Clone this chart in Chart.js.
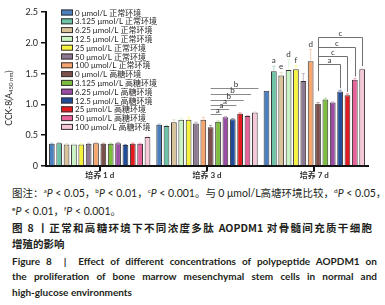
<!DOCTYPE html>
<html><head><meta charset="utf-8">
<script src="https://cdn.jsdelivr.net/npm/chart.js@4"></script>
<style>
body{margin:0;width:385px;height:305px;background:#fff;position:relative;overflow:hidden;font-family:"Noto Sans CJK SC",sans-serif;color:#231f20}
#wrap{position:absolute;left:0;top:0;width:385px;height:185px}
.ln{position:absolute;left:12px;width:366px;white-space:nowrap;line-height:16px;height:16px}
.j{text-align:justify;text-align-last:justify}
.zh{font-size:10.5px}
.zb{font-size:10.5px;font-weight:700}
.en{font-family:Lato,"Noto Sans",sans-serif;font-weight:700;font-size:10px}
.num{font-family:Lato,"Noto Sans",sans-serif}
sup{font-size:6.5px;vertical-align:4px;line-height:0;font-family:Lato,"Noto Sans",sans-serif}
</style></head>
<body>
<div id="wrap"><canvas id="c" width="385" height="185"></canvas></div>
<div class="ln j zh" style="top:185px;width:368px">图注：<sup>a</sup><i class="num">P</i><span class="num"> &lt; 0.05</span>，<sup>b</sup><i class="num">P</i><span class="num"> &lt; 0.01</span>，<sup>c</sup><i class="num">P</i><span class="num"> &lt; 0.001</span>。与 <span class="num">0 μmol/L</span>高塘环境比较，<sup>d</sup><i class="num">P</i><span class="num"> &lt; 0.05</span>，</div>
<div class="ln zh" style="top:203px"><sup>e</sup><i class="num">P</i><span class="num"> &lt; 0.01</span>，<sup>f</sup><i class="num">P</i><span class="num"> &lt; 0.001</span>。</div>
<div class="ln j zb" style="top:220px;width:360px">图 8 丨正常和高糖环境下不同浓度多肽 AOPDM1 对骨髓间充质干细胞</div>
<div class="ln zb" style="top:236px">增殖的影响</div>
<div class="ln j en" style="top:253px;width:365px">Figure 8 &nbsp;| &nbsp;Effect of different concentrations of polypeptide AOPDM1 on</div>
<div class="ln j en" style="top:268px;width:365px">the proliferation of bone marrow mesenchymal stem cells in normal and</div>
<div class="ln en" style="top:284px">high-glucose environments</div>
<script>
const categories = ['培养 1 d', '培养 3 d', '培养 7 d'];
const seriesLabels = [
  '0 μmol/L 正常环境', '3.125 μmol/L 正常环境', '6.25 μmol/L 正常环境', '12.5 μmol/L 正常环境',
  '25 μmol/L 正常环境', '50 μmol/L 正常环境', '100 μmol/L 正常环境',
  '0 μmol/L 高糖环境', '3.125 μmol/L 高糖环境', '6.25 μmol/L 高糖环境', '12.5 μmol/L 高糖环境',
  '25 μmol/L 高糖环境', '50 μmol/L 高糖环境', '100 μmol/L 高糖环境'
];
const day1 = [0.36, 0.37, 0.35, 0.35, 0.35, 0.36, 0.37, 0.36, 0.36, 0.37, 0.34, 0.36, 0.36, 0.47];
const day3 = [0.67, 0.65, 0.71, 0.75, 0.75, 0.69, 0.75, 0.63, 0.72, 0.79, 0.76, 0.85, 0.81, 0.87];
const day7 = [1.22, 1.54, 1.47, 1.56, 1.57, 1.38, 1.70, 1.01, 1.08, 1.03, 1.21, 1.15, 1.40, 1.57];
const err1 = [0.01, 0.01, 0.01, 0.01, 0.01, 0.01, 0.015, 0.01, 0.01, 0.015, 0.01, 0.01, 0.01, 0.015];
const err3 = [0.01, 0.01, 0.04, 0.03, 0.04, 0.02, 0.04, 0.03, 0.01, 0.01, 0.01, 0.01, 0.01, 0.01];
const err7 = [0.0, 0.08, 0.05, 0.17, 0.06, 0.12, 0.19, 0.02, 0.02, 0.01, 0.02, 0.02, 0.02, 0.02];
const yTickValues = [0, 0.5, 1, 1.5, 2, 2.5];
const yTickLabels = ['0', '0.5', '1.0', '1.5', '2.0', '2.5'];
// significance letters directly above bars (category index, series index)
const barLetters = [
  {cat: 2, series: 1, letter: 'a'}, {cat: 2, series: 2, letter: 'e'}, {cat: 2, series: 3, letter: 'd'},
  {cat: 2, series: 4, letter: 'f'}, {cat: 2, series: 6, letter: 'd'}
];
// day 3 comparison lines (from series -> to series at a value level)
const day3Marks = [
  {from: 7, to: 13, level: 1.266, letter: 'b'}, {from: 7, to: 12, level: 1.164, letter: 'b'},
  {from: 7, to: 11, level: 1.071, letter: 'b'}, {from: 7, to: 10, level: 0.985, letter: 'a'},
  {from: 7, to: 9, level: 0.92, letter: 'a'}, {from: 7, to: 8, level: 0.844, letter: 'a'}
];
// day 7 brackets
const day7Brackets = [
  {from: 7, to: 13, level: 2.10, base: 1.22, letter: 'c'}, {from: 7, to: 12, level: 1.93, base: 1.22, letter: 'c'},
  {from: 7, to: 11, level: 1.79, base: 1.22, letter: 'c'}, {from: 7, to: 10, level: 1.65, base: 1.22, letter: 'a'}
];

const colors = ['#4a7fc0', '#6cc3a6', '#d8c39a', '#c9f4c4', '#f6f33e', '#8c7892', '#f5a66e',
  '#7a4e4b', '#7cbd3e', '#9a4ea3', '#1f4d9b', '#e51a1f', '#e8619b', '#f6c8d9'];
const allErr = [err1, err3, err7];

function lighten(hex, t) {
  const n = parseInt(hex.slice(1), 16);
  const r = (n >> 16) & 255, g = (n >> 8) & 255, b = n & 255;
  const m = v => Math.round(v + (255 - v) * t);
  return `rgb(${m(r)},${m(g)},${m(b)})`;
}

const FONT = 'Lato, "Noto Sans", "Noto Sans CJK SC", sans-serif';

const datasets = seriesLabels.map((lab, i) => ({
  label: lab,
  data: [day1[i], day3[i], day7[i]],
  errors: allErr.map(e => e[i]),
  backgroundColor: colors[i],
  borderColor: '#3a3535',
  borderWidth: 1,
  borderSkipped: 'start'
}));

const extras = {
  id: 'extras',
  afterDatasetsDraw(chart) {
    const ctx = chart.ctx;
    const ys = chart.scales.y;
    ctx.save();
    // error bars
    chart.data.datasets.forEach((ds, i) => {
      const meta = chart.getDatasetMeta(i);
      meta.data.forEach((el, c) => {
        const e = ds.errors[c];
        if (!e) return;
        const yt = ys.getPixelForValue(ds.data[c] + e);
        ctx.strokeStyle = lighten(colors[i], 0.45);
        ctx.lineWidth = 1;
        ctx.beginPath();
        ctx.moveTo(el.x, el.y);
        ctx.lineTo(el.x, yt);
        ctx.moveTo(el.x - 1.6, yt);
        ctx.lineTo(el.x + 1.6, yt);
        ctx.stroke();
      });
    });
    ctx.font = '8px ' + FONT;
    ctx.fillStyle = '#333';
    ctx.textAlign = 'center';
    ctx.textBaseline = 'middle';
    // letters above bars
    barLetters.forEach(m => {
      const el = chart.getDatasetMeta(m.series).data[m.cat];
      const yt = ys.getPixelForValue(day7[m.series] + err7[m.series]);
      ctx.fillText(m.letter, el.x, yt - 5.5);
    });
    // day 3 lines
    ctx.strokeStyle = '#8a8a8a';
    ctx.lineWidth = 1;
    day3Marks.forEach(m => {
      const a = chart.getDatasetMeta(m.from).data[1];
      const b = chart.getDatasetMeta(m.to).data[1];
      const x0 = a.x, x1 = b.x + b.width / 2 + 0.8;
      const y = Math.round(ys.getPixelForValue(m.level)) + 0.5;
      ctx.beginPath(); ctx.moveTo(x0, y); ctx.lineTo(x1, y); ctx.stroke();
      ctx.fillText(m.letter, (x0 + x1) / 2 + 1.5, y - 4);
    });
    // day 7 brackets
    ctx.strokeStyle = '#707070';
    day7Brackets.forEach(m => {
      const a = chart.getDatasetMeta(m.from).data[2];
      const b = chart.getDatasetMeta(m.to).data[2];
      const xl = Math.round(a.x) + 0.5, xr = Math.round(b.x) + 0.5;
      const y = Math.round(ys.getPixelForValue(m.level)) + 0.5;
      const yl = ys.getPixelForValue(m.base);
      const yr = ys.getPixelForValue(day7[m.to] + err7[m.to]) - 2;
      ctx.beginPath();
      ctx.moveTo(xl, yl); ctx.lineTo(xl, y); ctx.lineTo(xr, y); ctx.lineTo(xr, yr);
      ctx.stroke();
      ctx.fillText(m.letter, (xl + xr) / 2, y - 4.5);
    });
    // legend
    ctx.textAlign = 'left';
    ctx.font = '8px ' + FONT;
    chart.data.datasets.forEach((ds, i) => {
      const cy = 12.5 + i * 8.8;
      ctx.fillStyle = ds.backgroundColor;
      ctx.fillRect(61, cy - 3, 12, 6);
      ctx.strokeStyle = '#3a3535';
      ctx.strokeRect(61.5, cy - 3 + 0.5, 11, 5);
      ctx.fillStyle = '#231f20';
      ctx.fillText(ds.label, 75, cy + 0.5);
    });
    // y title
    ctx.translate(9, 98);
    ctx.rotate(-Math.PI / 2);
    const f1 = '8.5px ' + FONT, f2 = '6px ' + FONT;
    ctx.font = f1; const w1 = ctx.measureText('CCK-8(A').width; const w3 = ctx.measureText(')').width;
    ctx.font = f2; const w2 = ctx.measureText('450 nm').width;
    let x = -(w1 + w2 + w3) / 2;
    ctx.fillStyle = '#231f20';
    ctx.font = f1; ctx.fillText('CCK-8(A', x, 0); x += w1;
    ctx.font = f2; ctx.fillText('450 nm', x, 2); x += w2;
    ctx.font = f1; ctx.fillText(')', x, 0);
    ctx.restore();
  }
};

new Chart(document.getElementById('c'), {
  type: 'bar',
  data: {labels: categories, datasets},
  options: {
    responsive: false,
    animation: false,
    events: [],
    layout: {padding: {top: 12, right: 17, left: 0, bottom: 0}},
    plugins: {legend: {display: false}, tooltip: {enabled: false}},
    datasets: {bar: {categoryPercentage: 0.96, barPercentage: 0.78}},
    scales: {
      x: {
        offset: true,
        grid: {display: true, drawOnChartArea: false, drawTicks: true, tickLength: 5, offset: false, color: '#111', lineWidth: 2},
        border: {display: true, color: '#111', width: 2},
        ticks: {font: {size: 8, family: FONT, weight: 'bold'}, color: '#333', padding: 0},
        afterFit(s) { s.height = 19; }
      },
      y: {
        min: 0, max: 2.5,
        afterBuildTicks(s) { s.ticks = yTickValues.map(v => ({value: v})); },
        ticks: {
          font: {size: 9, family: FONT}, color: '#231f20', padding: 3,
          callback: (v) => yTickLabels[yTickValues.indexOf(v)]
        },
        grid: {display: true, drawOnChartArea: false, drawTicks: true, tickLength: 5, color: '#111', lineWidth: 1.5},
        border: {display: true, color: '#111', width: 2},
        afterFit(s) { s.width = 46; }
      }
    }
  },
  plugins: [extras]
});
</script>
</body></html>
